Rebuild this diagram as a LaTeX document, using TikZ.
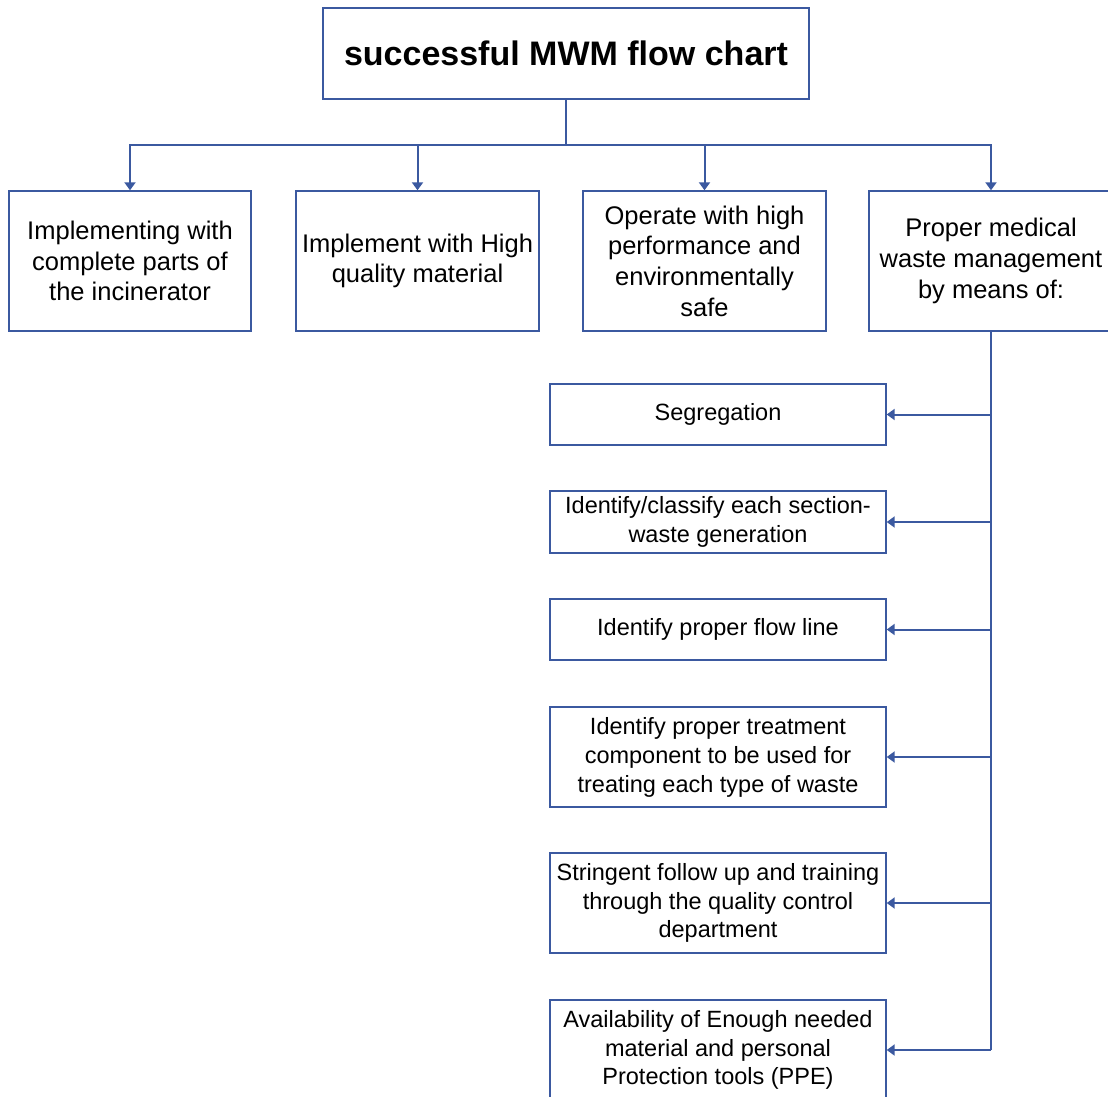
\documentclass[tikz,border=0pt]{standalone}
\usepackage{fontspec}
\setmainfont{Liberation Sans}
\usetikzlibrary{arrows.meta}
\definecolor{lc}{RGB}{59,89,160}
\begin{document}
\begin{tikzpicture}[x=1pt,y=-1pt,
  box/.style={draw=lc, line width=1.4pt, fill=white, align=center, inner sep=0pt, text=black},
  topbox/.style={box, minimum width=243pt, minimum height=140pt, font=\fontsize{25.5}{30.7}\selectfont},
  colbox/.style={box, minimum width=336pt, font=\fontsize{23.5}{29}\selectfont},
  arr/.style={draw=lc, line width=2pt, -{Triangle[width=11pt,length=8pt]}},
  trunk/.style={draw=lc, line width=2.6pt}]
\clip (0,0) rectangle (1108,1097);
\useasboundingbox (0,0) rectangle (1108,1097);

\node[box, minimum width=486pt, minimum height=91pt, font=\fontsize{34}{40}\selectfont\bfseries] (title) at (566,53.5) {successful MWM flow chart};

\node[topbox, minimum width=242pt] (A) at (130,261) {Implementing with\\complete parts of\\the incinerator};
\node[topbox] (B) at (417.5,261) {Implement with High\\quality material};
\node[topbox] (C) at (704.5,261) {Operate with high\\performance and\\environmentally\\safe};
\node[topbox, minimum width=244pt] (D) at (991,261) {Proper medical\\waste management\\by means of:};

\node[colbox, minimum height=61pt] (seg) at (718,414.5) {Segregation};
\node[colbox, minimum height=62pt] (cls) at (718,522) {Identify/classify each section-\\waste generation};
\node[colbox, minimum height=61pt] (flw) at (718,629.5) {Identify proper flow line};
\node[colbox, minimum height=100pt] (trt) at (718,757) {Identify proper treatment\\component to be used for\\treating each type of waste};
\node[colbox, minimum height=100pt, font=\fontsize{23.5}{28.5}\selectfont] (str) at (718,903) {Stringent follow up and training\\through the quality control\\department};
\node[colbox, minimum height=100pt, font=\fontsize{23.5}{28.5}\selectfont] (ava) at (718,1050) {Availability of Enough needed\\material and personal\\Protection tools (PPE)};

\coordinate (bus) at (566,145);
\draw[trunk, line width=2.4pt] (title.south) -- (bus);
\draw[arr] (bus) -| (A.north);
\draw[arr] (bus) -| (B.north);
\draw[arr] (bus) -| (C.north);
\draw[arr] (bus) -| (D.north);

\coordinate (tend) at (D.south |- ava.east);
\draw[trunk] (D.south) -- (tend);
\draw[arr] (D.south |- seg.east) -- (seg.east);
\draw[arr] (D.south |- cls.east) -- (cls.east);
\draw[arr] (D.south |- flw.east) -- (flw.east);
\draw[arr] (D.south |- trt.east) -- (trt.east);
\draw[arr] (D.south |- str.east) -- (str.east);
\draw[arr] (tend) -- (ava.east);
\end{tikzpicture}
\end{document}
